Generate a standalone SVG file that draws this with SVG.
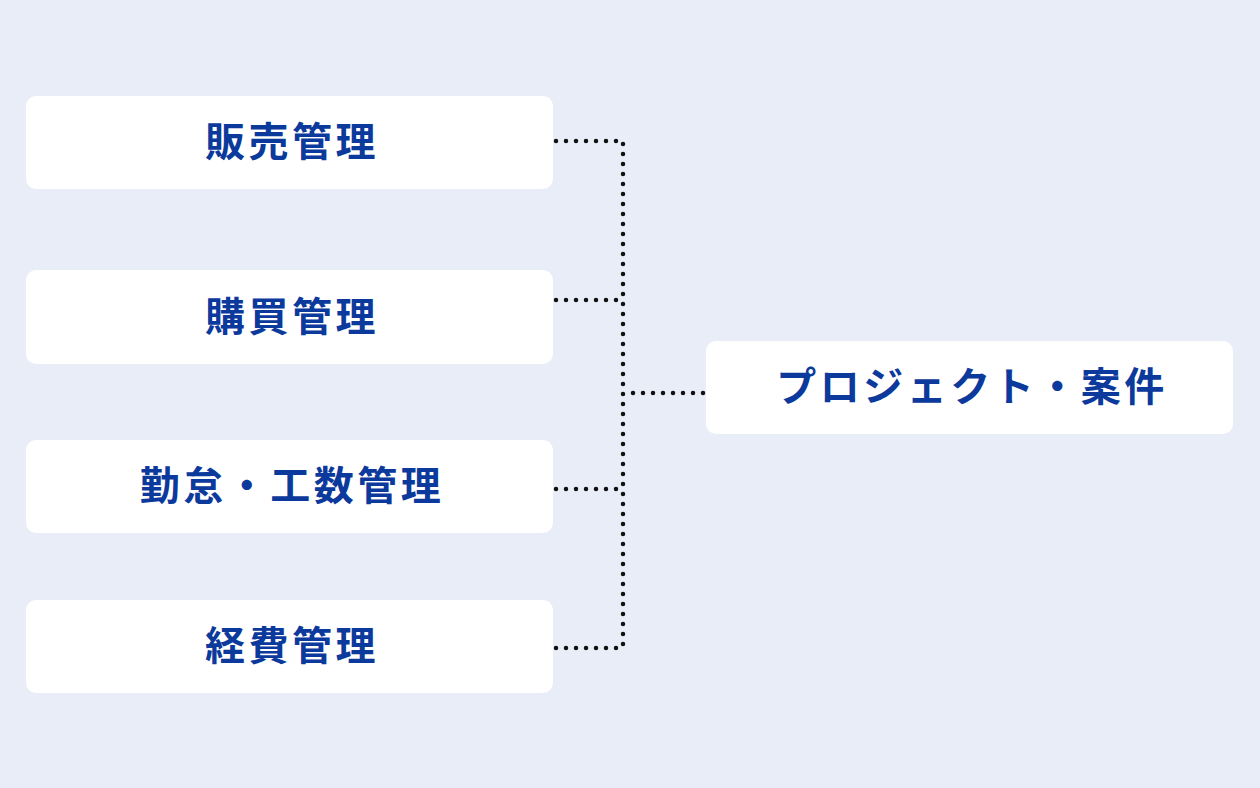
<svg xmlns="http://www.w3.org/2000/svg" width="1260" height="788" viewBox="0 0 1260 788">
<style>
.box{fill:#fff}
.t{font-family:"Noto Sans CJK JP","Noto Sans",sans-serif;font-weight:700;font-size:40px;fill:#0b3a9c;text-anchor:middle;dominant-baseline:central;letter-spacing:3.5px}
.c{fill:none;stroke:#111;stroke-width:4.5;stroke-linecap:round;stroke-dasharray:0 10}
</style>
<rect width="1260" height="788" fill="#e8edf7"/>
<g id="connectors">
<path class="c" d="M556 141H623V648M556 300H623M556 489H623M556 648H623M633 393H706"/>
</g>
<g id="n1"><rect class="box" x="26" y="96" width="527" height="93" rx="10"/><text class="t" x="292" y="139">販売管理</text></g>
<g id="n2"><rect class="box" x="26" y="270" width="527" height="94" rx="10"/><text class="t" x="292" y="314">購買管理</text></g>
<g id="n3"><rect class="box" x="26" y="440" width="527" height="93" rx="10"/><text class="t" x="292" y="483">勤怠・工数管理</text></g>
<g id="n4"><rect class="box" x="26" y="600" width="527" height="93" rx="10"/><text class="t" x="292" y="643">経費管理</text></g>
<g id="n5"><rect class="box" x="706" y="341" width="527" height="93" rx="10"/><text class="t" x="972" y="384">プロジェクト・案件</text></g>
</svg>
